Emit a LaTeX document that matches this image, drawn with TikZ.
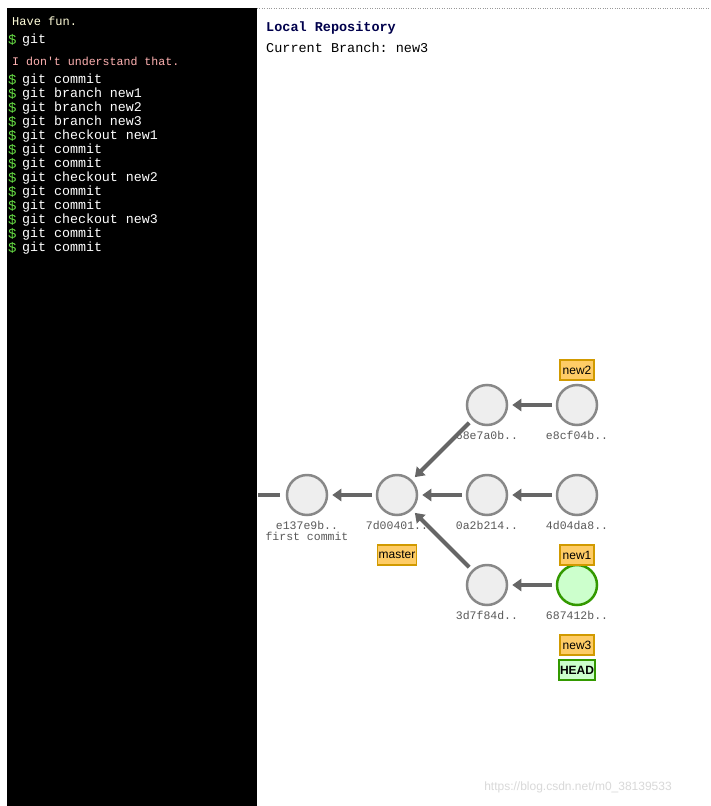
\documentclass[tikz,border=0pt]{standalone}
\usepackage{fontspec}
\setmonofont{Liberation Mono}
\setmainfont{Liberation Sans}
\usetikzlibrary{arrows.meta}
\definecolor{cgray}{HTML}{EEEEEE}
\definecolor{cedge}{HTML}{888888}
\definecolor{arr}{HTML}{666666}
\definecolor{lbl}{HTML}{FECC66}
\definecolor{lbld}{HTML}{D19A00}
\definecolor{hgreen}{HTML}{CCFFCC}
\definecolor{hedge}{HTML}{339900}
\definecolor{prompt}{HTML}{66DD44}
\begin{document}
\begin{tikzpicture}[x=1pt,y=-1pt,
 commit/.style={circle,draw=cedge,line width=2.5pt,fill=cgray,minimum size=40pt,inner sep=0},
 head/.style={commit,draw=hedge,fill=hgreen},
 sha/.style={font=\ttfamily\fontsize{11.5}{12}\selectfont,text=black!65},
 br/.style={draw=lbld,line width=1.5pt,fill=lbl,font=\fontsize{12}{13}\selectfont,minimum width=34pt,minimum height=20pt,inner sep=1pt},
 hd/.style={br,draw=hedge,fill=hgreen,font=\bfseries\fontsize{12}{13}\selectfont},
 link/.style={draw=arr,line width=4pt,-{Triangle[length=9pt,width=12pt]},shorten >=4pt,shorten <=4pt},
 term/.style={anchor=west,text=white,font=\ttfamily\fontsize{13.3}{14}\selectfont,inner sep=0},
 dol/.style={anchor=west,text=prompt,font=\ttfamily\fontsize{14}{14}\selectfont,inner sep=0}]
\useasboundingbox (0,0) rectangle (710,806);
\fill[white] (0,0) rectangle (710,806);
\fill[black] (7,8) rectangle (257,806);
\draw[black!40,dotted] (257,8) -- (710,8);
\node[term,font=\ttfamily\fontsize{12}{12}\selectfont,text=white!85!yellow] (hf) at (12,21) {Have fun.};
\node[dol] (d0) at (8,40) {\$};
\node[term] (g0) at (22,40) {git};
\node[term,font=\ttfamily\fontsize{11.6}{12}\selectfont,text=red!30!white] (err) at (12,61) {I don't understand that.};
\foreach \t [count=\i from 0] in {git commit,git branch new1,git branch new2,git branch new3,git checkout new1,git commit,git commit,git checkout new2,git commit,git commit,git checkout new3,git commit,git commit}{
 \node[dol] (d\i x) at (8,80+14*\i) {\$};
 \node[term] (c\i) at (22,80+14*\i) {\t};
}
\node[anchor=west,font=\ttfamily\bfseries\fontsize{13.5}{14}\selectfont,text=black!70!blue,inner sep=0] (title) at (266,28) {Local Repository};
\node[anchor=west,font=\ttfamily\fontsize{13.5}{14}\selectfont,inner sep=0] (cur) at (266,48) {Current Branch: new3};
% commits
\node[commit] (e137) at (307,495) {};
\node[commit] (7d00) at (397,495) {};
\node[commit] (0a2b) at (487,495) {};
\node[commit] (4d04) at (577,495) {};
\node[commit] (68e7) at (487,405) {};
\node[commit] (e8cf) at (577,405) {};
\node[commit] (3d7f) at (487,585) {};
\node[head] (6874) at (577,585) {};
\node[sha] at (307,525) {e137e9b..};
\node[sha] at (307,536) {first commit};
\node[sha] at (397,525) {7d00401..};
\node[sha] at (487,525) {0a2b214..};
\node[sha] at (577,525) {4d04da8..};
\node[sha] at (487,435) {68e7a0b..};
\node[sha] at (577,435) {e8cf04b..};
\node[sha] at (487,615) {3d7f84d..};
\node[sha] at (577,615) {687412b..};
\coordinate (left) at (258,495);
\draw[arr,line width=4pt] (left) -- ++(22,0);
\draw[link] (7d00) -- (e137);
\draw[link] (0a2b) -- (7d00);
\draw[link] (4d04) -- (0a2b);
\draw[link] (e8cf) -- (68e7);
\draw[link] (6874) -- (3d7f);
\draw[link] (68e7) -- (7d00);
\draw[link] (3d7f) -- (7d00);
\node[br] (new2) at (577,370) {new2};
\node[br] (master) at (397,555) {master};
\node[br] (new1) at (577,555) {new1};
\node[br] (new3) at (577,645) {new3};
\node[hd] (HEAD) at (577,670) {HEAD};
\node[text=black!15,font=\fontsize{12}{12}\selectfont] (wm) at (578,787) {https://blog.csdn.net/m0\_38139533};
\end{tikzpicture}
\end{document}
